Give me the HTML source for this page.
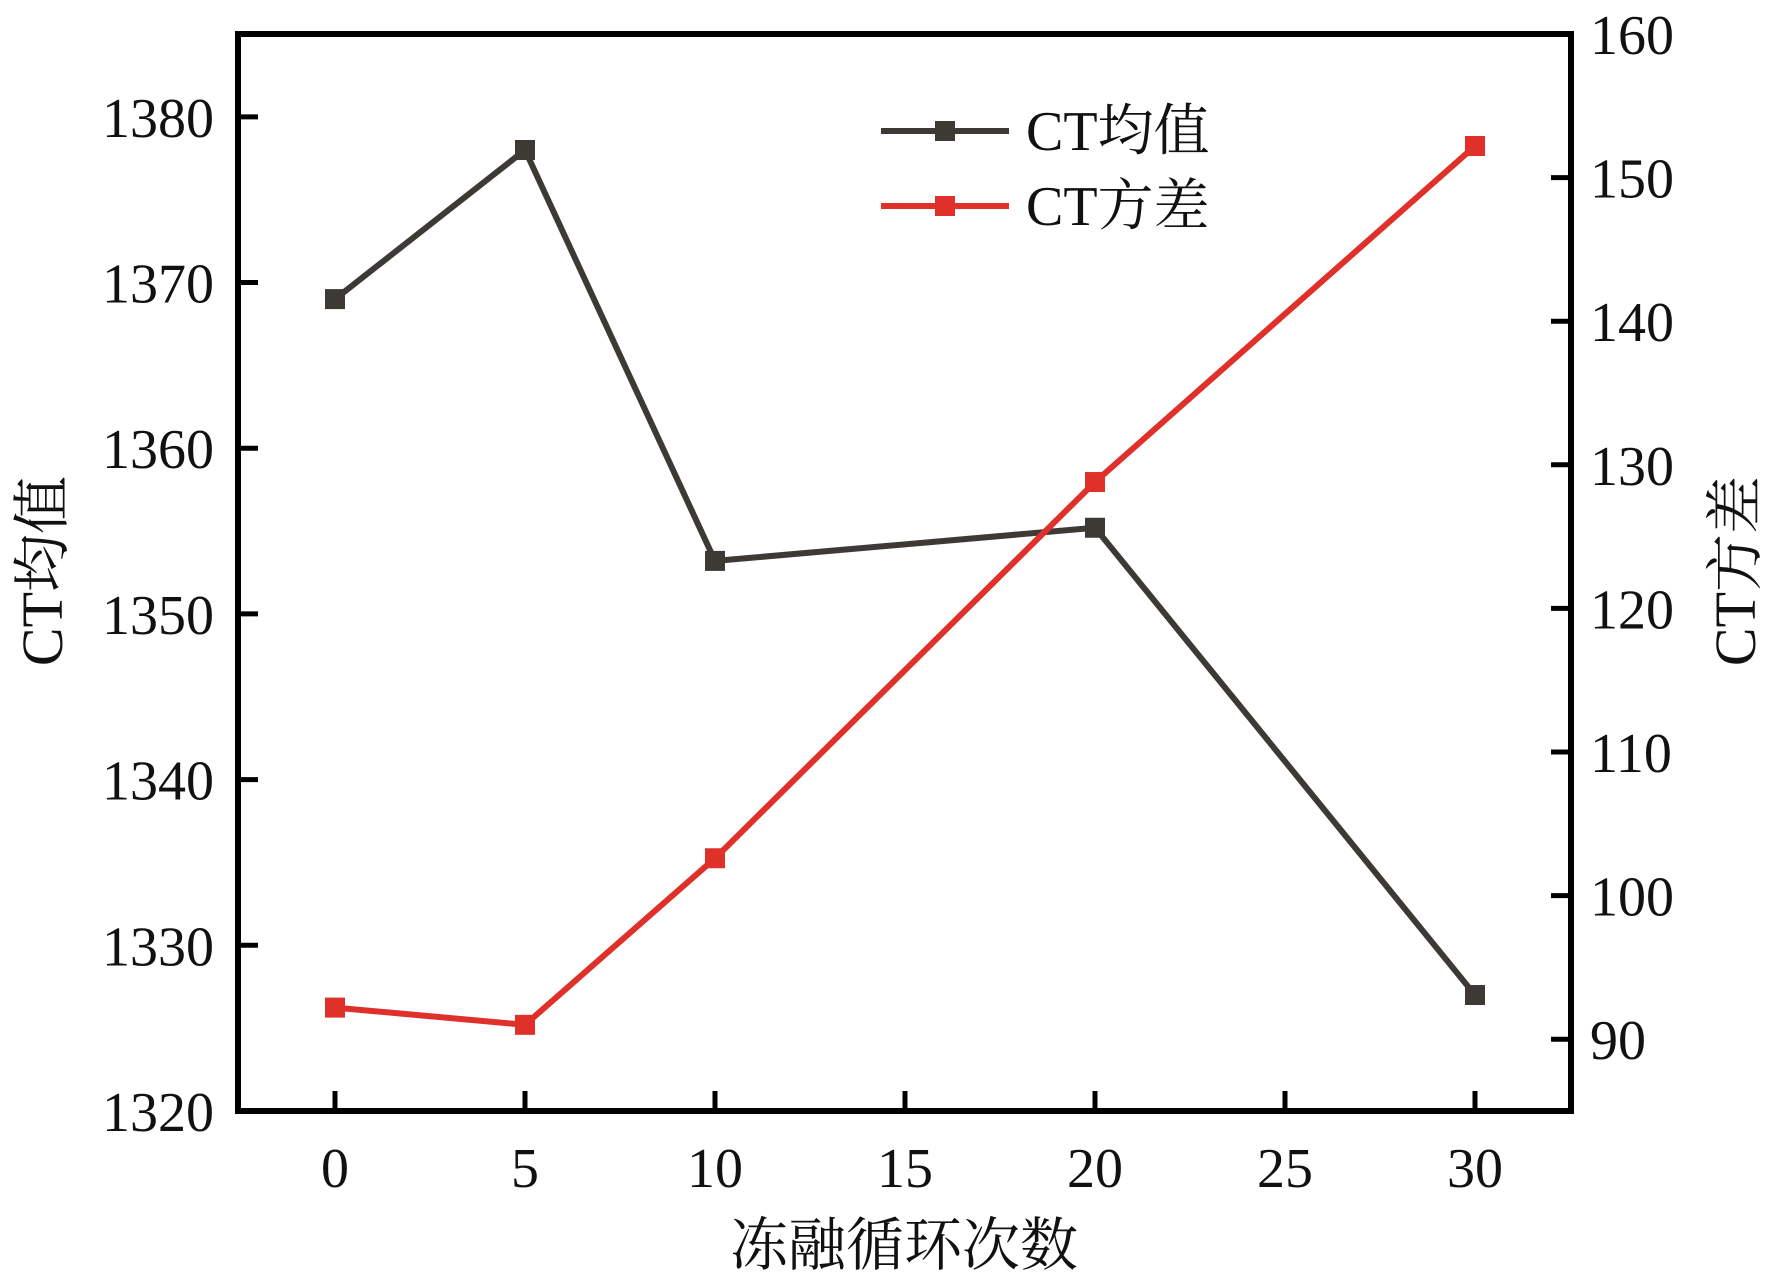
<!DOCTYPE html>
<html><head><meta charset="utf-8"><style>
html,body{margin:0;padding:0;background:#fff;}
svg{display:block;}
text{font-family:"Liberation Serif","Noto Serif CJK SC",serif;fill:#111;}
</style></head><body>
<svg id="chart" width="1772" height="1288" viewBox="0 0 1772 1288">
<g id="grid"></g>
</svg>
<script>
const categories=[0,5,10,20,30];
const meanValues=[1369,1378,1353.2,1355.2,1327];
const varValues=[92.2,91.0,102.6,128.8,152.2];
const xTicks=[0,5,10,15,20,25,30];
const yLeftTicks=[1320,1330,1340,1350,1360,1370,1380];
const yRightTicks=[90,100,110,120,130,140,150,160];

const L=238,R=1571,T=34,B=1111;
const NS='http://www.w3.org/2000/svg';
const svg=document.getElementById('chart');
const xS=v=>335+(v/5)*190;
const yL=v=>B-(v-1320)/(1385-1320)*(B-T);
const yR=v=>B-(v-85)/(160-85)*(B-T);
function mk(tag,attrs,parent){const e=document.createElementNS(NS,tag);for(const k in attrs)e.setAttribute(k,attrs[k]);(parent||svg).appendChild(e);return e;}

// frame
const frame=mk('rect',{x:L,y:T,width:R-L,height:B-T,fill:'none',stroke:'#000','stroke-width':6});



xTicks.forEach(t=>{
  const ln=mk('line',{x1:xS(t),x2:xS(t),y1:B,y2:B-20,stroke:'#000','stroke-width':5});
  
  
  const tx=mk('text',{x:xS(t),y:1187,'text-anchor':'middle','font-size':56});
  tx.textContent=t;
  
  
});
yLeftTicks.forEach(t=>{
  const ln=mk('line',{x1:L,x2:L+20,y1:yL(t),y2:yL(t),stroke:'#000','stroke-width':5});
  
  
  const tx=mk('text',{x:214,y:yL(t)+20,'text-anchor':'end','font-size':56});
  tx.textContent=t;
  
  
});
yRightTicks.forEach(t=>{
  const ln=mk('line',{x1:R,x2:R-20,y1:yR(t),y2:yR(t),stroke:'#000','stroke-width':5});
  
  
  const tx=mk('text',{x:1590,y:yR(t)+20,'text-anchor':'start','font-size':56});
  tx.textContent=t;
  
  
});

function series(vals,yf,color,name){
  const pts=categories.map((c,i)=>xS(c)+','+yf(vals[i])).join(' ');
  const pl=mk('polyline',{points:pts,fill:'none',stroke:color,'stroke-width':6,'stroke-linejoin':'miter'});
  
  
  categories.forEach((c,i)=>{
    const r=mk('rect',{x:xS(c)-10,y:yf(vals[i])-10,width:20,height:20,fill:color});
    
    
  });
}
series(meanValues,yL,'#3d3a36','ct-mean');
series(varValues,yR,'#e0302a','ct-variance');

// legend
[['CT均值','#3d3a36',131,'legend-ct-mean'],['CT方差','#e0302a',206,'legend-ct-variance']].forEach(d=>{
  const g=mk('g',{});
  
  
  mk('line',{x1:881,x2:1009,y1:d[2],y2:d[2],stroke:d[1],'stroke-width':6},g);
  mk('rect',{x:935,y:d[2]-10,width:20,height:20,fill:d[1]},g);
  const t=mk('text',{x:1026,y:d[2]+19,'font-size':56},g);
  t.textContent=d[0];
});

const xl=mk('text',{x:904,y:1265,'text-anchor':'middle','font-size':58});
xl.textContent='冻融循环次数';


const yl=mk('text',{x:0,y:0,'text-anchor':'middle','font-size':58,transform:'translate(62,571) rotate(-90)'});
yl.textContent='CT均值';


const yr=mk('text',{x:0,y:0,'text-anchor':'middle','font-size':58,transform:'translate(1755,571) rotate(-90)'});
yr.textContent='CT方差';


</script>
</body></html>
